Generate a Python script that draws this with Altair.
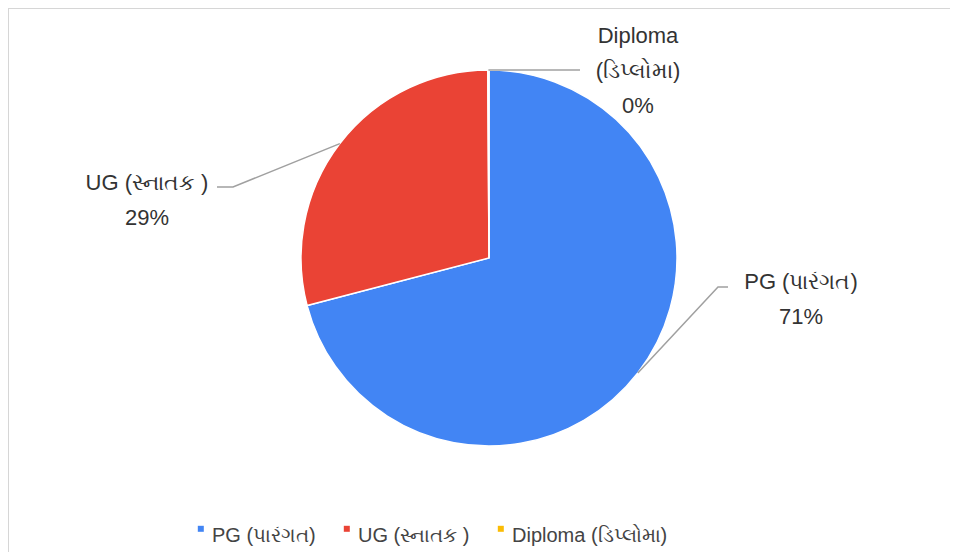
import math
import altair as alt
import pandas as pd

# ---------------- data ----------------
categories = ["PG (પારંગત)", "UG (સ્નાતક )", "Diploma (ડિપ્લોમા)"]
values = [71, 29, 0.1]
label_lines = [["PG (પારંગત)"], ["UG (સ્નાતક )"], ["Diploma", "(ડિપ્લોમા)"]]
colors = ["#4285F4", "#EA4335", "#FBBC04"]

# ---------------- layout ----------------
W, H = 942, 544
CX, CY, R = 481, 250, 188
FONT = "Liberation Sans"
# label anchor (first line centre), elbow and end of the leader line
label_anchor = [(793, 274), (139, 175), (630, 28)]
leader_elbow = [(710, 279), (225, 179), (572, 62)]
leader_end = [(720, 279), (209, 179), (572, 62)]
LINE_GAP = 35

total = sum(values)
pcts = [f"{round(v / total * 100)}%" for v in values]

pie_df = pd.DataFrame({"cat": categories, "value": values, "order": list(range(len(values)))})

# leader lines start at the middle angle of each slice (computed from data)
line_rows, text_rows = [], []
cum = 0.0
for i, v in enumerate(values):
    mid = (cum + v / 2) / total * 2 * math.pi
    cum += v
    sx, sy = CX + R * math.sin(mid), CY - R * math.cos(mid)
    pts = [(sx, sy), leader_elbow[i], leader_end[i]]
    for k, (px, py) in enumerate(pts):
        line_rows.append({"cat": categories[i], "k": k, "px": px, "py": py})
    lines = label_lines[i] + [pcts[i]]
    ax, ay = label_anchor[i]
    for j, t in enumerate(lines):
        text_rows.append({"cat": categories[i], "t": t, "px": ax, "py": ay + j * LINE_GAP})

line_df = pd.DataFrame(line_rows)
text_df = pd.DataFrame(text_rows)

xs = alt.Scale(domain=[0, W], range=[0, W], nice=False, zero=False)
ys = alt.Scale(domain=[0, H], range=[0, H], nice=False, zero=False)

color_scale = alt.Scale(domain=categories, range=colors)

pie = alt.Chart(pie_df).mark_arc(radius=R, stroke="white", strokeWidth=1.5).encode(
    theta=alt.Theta("value:Q", stack=True),
    order=alt.Order("order:Q"),
    color=alt.Color(
        "cat:N",
        scale=color_scale,
        sort=categories,
        legend=alt.Legend(
            title=None,
            orient="none",
            direction="horizontal",
            legendX=181,
            legendY=518,
            symbolType="M-0.4,-3.4H1.6V-1.4H-0.4Z",
            symbolSize=36,
            symbolStrokeWidth=0,
            labelFont=FONT,
            labelFontSize=20,
            labelColor="#444444",
            labelOffset=3,
            columnPadding=19,
        ),
    ),
    x=alt.value(CX),
    y=alt.value(CY),
)

leaders = alt.Chart(line_df).mark_line(color="#a0a0a0", strokeWidth=1.5).encode(
    x=alt.X("px:Q", scale=xs, axis=None),
    y=alt.Y("py:Q", scale=ys, axis=None),
    detail="cat:N",
    order="k:Q",
)

labels = alt.Chart(text_df).mark_text(
    font=FONT, fontSize=22, color="#333333", align="center", baseline="middle"
).encode(
    x=alt.X("px:Q", scale=xs, axis=None),
    y=alt.Y("py:Q", scale=ys, axis=None),
    text="t:N",
)

border_top = alt.Chart(pd.DataFrame({"a": [0]})).mark_rule(color="#d6d6d6", strokeWidth=2).encode(
    x=alt.value(0), x2=alt.value(W), y=alt.value(0)
)
border_left = alt.Chart(pd.DataFrame({"a": [0]})).mark_rule(color="#d6d6d6", strokeWidth=2).encode(
    x=alt.value(0), y=alt.value(0), y2=alt.value(H)
)

chart = alt.layer(pie, leaders, labels, border_top, border_left).properties(
    width=W, height=H, padding=0, autosize=alt.AutoSizeParams(type="none")
).resolve_scale(x="shared", y="shared").configure_view(strokeWidth=0)

chart.save("out.html", embed_options={"renderer": "svg", "actions": False})
